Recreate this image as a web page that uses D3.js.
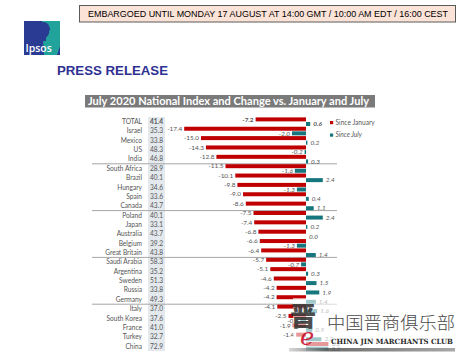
<!DOCTYPE html>
<html><head><meta charset="utf-8">
<script src="https://cdn.jsdelivr.net/npm/d3@7"></script>
<style>
html,body{margin:0;padding:0;background:#fff;}
svg{display:block;}
</style></head>
<body>
<script>
// ---------- data ----------
const categories = ["TOTAL","Israel","Mexico","US","India","South Africa","Brazil","Hungary","Spain","Canada","Poland","Japan","Australia","Belgium","Great Britain","Saudi Arabia","Argentina","Sweden","Russia","Germany","Italy","South Korea","France","Turkey","China"];
const indexValues = [41.4,35.3,33.8,48.3,46.8,28.9,40.1,34.6,33.6,43.7,40.1,33.1,43.7,39.2,43.8,58.3,35.2,51.3,33.8,49.3,37.0,37.6,41.0,32.7,72.9];
const sinceJanuary = [-7.2,-17.4,-15.0,-14.3,-12.8,-11.5,-10.1,-9.8,-9.0,-8.6,-7.5,-7.4,-6.8,-6.6,-6.4,-5.7,-5.1,-4.6,-4.2,-4.2,-4.1,-2.5,-1.9,-1.4,3.2];
const sinceJuly = [0.6,-2.0,0.2,-0.2,0.3,-1.6,2.4,-1.3,0.4,1.1,2.4,0.2,0.0,-1.3,1.4,-0.7,0.3,1.5,1.9,1.4,1.6,-0.8,0.9,2.2,3.2];
const groupEnds = ["India","Canada","Great Britain","Germany"];
const seriesNames = ["Since January","Since July"];
const titleText = "July 2020 National Index and Change vs. January and July";
const embargoText = "EMBARGOED UNTIL MONDAY 17 AUGUST AT 14:00 GMT / 10:00 AM EDT / 16:00 CEST";

// ---------- layout ----------
const W = 464, H = 359;
const RED = "#c00000", TEAL = "#16767e", TXT = "#555555";
const FONT = "Lato, 'Open Sans', sans-serif";

const svg = d3.select("body").append("svg").attr("width", W).attr("height", H);

// embargo box
svg.append("rect").attr("x",79.5).attr("y",5.5).attr("width",376).attr("height",16.5)
  .attr("fill","#fce3d8").attr("stroke","#5a5a5a").attr("stroke-width",1);
svg.append("text").attr("x",268).attr("y",17.4).attr("text-anchor","middle")
  .attr("font-family","'Liberation Sans', Arial, sans-serif").attr("font-size",9)
  .attr("fill","#000").attr("textLength",360).attr("lengthAdjust","spacingAndGlyphs")
  .text(embargoText);

// Ipsos logo
const logo = svg.append("g");
logo.append("rect").attr("x",24).attr("y",21).attr("width",36).attr("height",34).attr("fill","#2a3b94");
logo.append("path").attr("d","M42,21 L60,21 L60,46 L57,55 L44,55 Z").attr("fill","#21a29a");
logo.append("path").attr("d","M38,24 C40,21 48,21 49,26 C50,28 51,30 49,31 C50,34 47,36 46,38 L46,41 L38,41 C39,37 37,35 37,31 C36,28 37,26 38,24 Z").attr("fill","#2a3b94");
logo.append("text").attr("x",25.5).attr("y",52).attr("font-family","'Open Sans', sans-serif")
  .attr("font-size",10.5).attr("font-weight",600).attr("fill","#fff").text("Ipsos");

// press release
svg.append("text").attr("x",57).attr("y",75).attr("font-family","'Liberation Sans', Arial, sans-serif")
  .attr("font-size",12).attr("font-weight","bold").attr("fill","#2e3192")
  .attr("textLength",111).attr("lengthAdjust","spacingAndGlyphs").text("PRESS RELEASE");

// title bar
svg.append("rect").attr("x",85).attr("y",95).attr("width",290).attr("height",12.5).attr("fill","#7a7a7a");
svg.append("text").attr("x",88).attr("y",105).attr("font-family",FONT).attr("font-weight","bold")
  .attr("font-size",10.5).attr("fill","#fff").attr("textLength",281).attr("lengthAdjust","spacingAndGlyphs")
  .text(titleText);

// scales
const y = d3.scaleBand().domain(categories).range([117, 351]).paddingInner(0).paddingOuter(0);
const x = d3.scaleLinear().domain([-20, 5]).range([166, 341]);
const x0 = x(0);
const bh = 4;

// index column background
svg.append("rect").attr("x",148).attr("y",117).attr("width",17).attr("height",234).attr("fill","#e4e9ee");

// group separators
svg.selectAll("line.sep").data(groupEnds).join("line").attr("class","sep")
  .attr("x1",92).attr("x2",337)
  .attr("y1",d => y(d) + y.bandwidth()).attr("y2",d => y(d) + y.bandwidth())
  .attr("stroke","#a6a6a6").attr("stroke-width",1);

const rows = categories.map((c,i) => ({c, idx: indexValues[i], jan: sinceJanuary[i], jul: sinceJuly[i], total: i === 0}));
const cy = d => y(d.c) + y.bandwidth()/2;

// country labels
svg.selectAll("text.cat").data(rows).join("text").attr("class","cat")
  .attr("x",142).attr("y",d => cy(d) + 2.3).attr("text-anchor","end")
  .attr("font-family",FONT).attr("font-size",6.6).attr("fill",TXT).text(d => d.c);

// index values
svg.selectAll("text.idx").data(rows).join("text").attr("class","idx")
  .attr("x",156.5).attr("y",d => cy(d) + 2.3).attr("text-anchor","middle")
  .attr("font-family",FONT).attr("font-size",6.6).attr("fill",TXT)
  .attr("font-weight",d => d.total ? "bold" : "normal").text(d => d.idx.toFixed(1));

// since January bars
svg.selectAll("rect.jan").data(rows).join("rect").attr("class","jan")
  .attr("x",d => Math.min(x(d.jan), x0)).attr("width",d => Math.abs(x(d.jan) - x0))
  .attr("y",d => cy(d) - bh - 0.3).attr("height",bh).attr("fill",RED);

// since July bars
svg.selectAll("rect.jul").data(rows).join("rect").attr("class","jul")
  .attr("x",d => Math.min(x(d.jul), x0)).attr("width",d => Math.abs(x(d.jul) - x0))
  .attr("y",d => cy(d) + 0.3).attr("height",bh).attr("fill",TEAL);

// labels
function labelPos(v){ return v < 0 ? {x: x(v) - 2, a: "end"} : {x: x(v) + 3, a: "start"}; }
svg.selectAll("text.janl").data(rows).join("text").attr("class","janl")
  .attr("x",d => labelPos(d.jan).x).attr("text-anchor",d => labelPos(d.jan).a)
  .attr("y",d => cy(d) - 0.1)
  .attr("font-family",FONT).attr("font-size",6.4).attr("fill",TXT)
  .attr("font-weight",d => d.total ? "bold" : "normal").text(d => d.jan.toFixed(1));
svg.selectAll("text.jull").data(rows).join("text").attr("class","jull")
  .attr("x",d => labelPos(d.jul).x).attr("text-anchor",d => labelPos(d.jul).a)
  .attr("y",d => cy(d) + 4.5)
  .attr("font-family",FONT).attr("font-size",6.4).attr("fill",TXT).attr("font-style","italic")
  .attr("font-weight",d => d.total ? "bold" : "normal").text(d => d.jul.toFixed(1));

// legend
const lg = svg.append("g");
[RED, TEAL].forEach((col, i) => {
  lg.append("rect").attr("x",330).attr("y",121 + i*12.5).attr("width",3.2).attr("height",3.2).attr("fill",col);
  lg.append("text").attr("x",335.5).attr("y",124.6 + i*12.5).attr("font-family",FONT).attr("font-size",6.6)
    .attr("fill","#595959").attr("font-style", i ? "italic" : "normal").text(seriesNames[i]);
});

// watermark overlay
const wm = svg.append("g");
const grad = svg.append("defs").append("linearGradient").attr("id","wmg");
grad.append("stop").attr("offset","0").attr("stop-color","#d0d0d0");
grad.append("stop").attr("offset","0.25").attr("stop-color","#555");
grad.append("stop").attr("offset","1").attr("stop-color","#999");
wm.append("rect").attr("x",293).attr("y",298).attr("width",166).attr("height",50).attr("fill","#fff").attr("opacity",0.6);
wm.append("rect").attr("x",289).attr("y",348).attr("width",166).attr("height",3.5).attr("fill","url(#wmg)").attr("opacity",0.85);
wm.append("text").attr("x",327).attr("y",329).attr("font-family","'Noto Sans CJK SC', sans-serif")
  .attr("font-size",17).attr("font-weight",300).attr("fill","#4a4a4a")
  .attr("textLength",128).attr("lengthAdjust","spacingAndGlyphs").text("中国晋商俱乐部");
wm.append("text").attr("x",331).attr("y",343.5).attr("font-family","'DejaVu Serif', serif")
  .attr("font-size",7.2).attr("font-weight","bold").attr("fill","#2a2a2a")
  .attr("textLength",122).attr("lengthAdjust","spacingAndGlyphs").text("CHINA JIN MARCHANTS CLUB");
wm.append("text").attr("x",290).attr("y",326).attr("font-family","'Noto Sans CJK SC', sans-serif")
  .attr("font-size",26).attr("font-weight",900).attr("fill","#222").attr("opacity",0.8).text("晋");
wm.append("text").attr("x",300).attr("y",345).attr("font-family","'DejaVu Serif', serif")
  .attr("font-size",24).attr("font-style","italic").attr("fill","#c8102e").attr("opacity",0.9).text("e");
</script>
</body></html>
